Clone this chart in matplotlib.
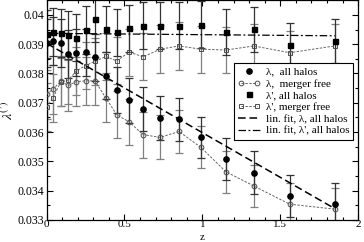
import matplotlib
matplotlib.use("Agg")
import matplotlib.pyplot as plt
from matplotlib.legend_handler import HandlerLine2D
from matplotlib.ticker import MultipleLocator, FormatStrFormatter
import numpy as np

# redshifts of the snapshots
z = [0, 0.04, 0.09, 0.14, 0.19, 0.25, 0.31, 0.38, 0.45, 0.53, 0.62, 0.73,
     0.85, 0.99, 1.15, 1.33, 1.56, 1.85]

lam_all = [0.03903, 0.03910, 0.03905, 0.03868, 0.03871, 0.03872, 0.03856,
           0.03793, 0.03744, 0.03708, 0.03679, 0.03647, 0.03644, 0.03583,
           0.03507, 0.03462, 0.03381, 0.03354]
lam_free = [0.03729, 0.03746, 0.03773, 0.03759, 0.03772, 0.03775, 0.03775,
            0.03717, 0.03659, 0.03635, 0.03591, 0.03582, 0.03602, 0.03548,
            0.03465, 0.03416, 0.03354, 0.03337]
lamp_all = [0.03935, 0.03943, 0.03938, 0.03930, 0.03922, 0.03949, 0.03986,
            0.03952, 0.03940, 0.03955, 0.03963, 0.03963, 0.03963, 0.03966,
            0.03941, 0.03951, 0.03898, 0.03911]
lamp_free = [0.03685, 0.03716, 0.03770, 0.03778, 0.03808, 0.03827, 0.03841,
             0.03858, 0.03843, 0.03873, 0.03857, 0.03883, 0.03894, 0.03883,
             0.03880, 0.03894, 0.03871, 0.03894]

err_lam_all = [0.00082, 0.00082, 0.00082, 0.00082, 0.00081, 0.00081, 0.00080,
               0.00079, 0.00078, 0.00077, 0.00076, 0.00075, 0.00074, 0.00070,
               0.00072, 0.00072, 0.00071, 0.00071]
err_lam_free = [0.00084, 0.00084, 0.00085, 0.00088, 0.00083, 0.00082, 0.00082,
                0.00083, 0.00080, 0.00078, 0.00078, 0.00075, 0.00075, 0.00072,
                0.00072, 0.00072, 0.00071, 0.00071]
err_lamp_all = [0.00082, 0.00082, 0.00082, 0.00082, 0.00081, 0.00081, 0.00080,
                0.00080, 0.00080, 0.00080, 0.00080, 0.00080, 0.00080, 0.00080,
                0.00078, 0.00076, 0.00075, 0.00075]
err_lamp_free = [0.00082, 0.00082, 0.00082, 0.00082, 0.00081, 0.00081, 0.00080,
                 0.00080, 0.00080, 0.00080, 0.00080, 0.00082, 0.00082, 0.00080,
                 0.00079, 0.00076, 0.00075, 0.00075]

# linear fits (intercept, slope)
fit_lam = (0.03903, -0.00305)
fit_lamp = (0.03937, -0.000045)

plt.rcParams["font.family"] = ["Liberation Serif", "DejaVu Serif"]
plt.rcParams["mathtext.fontset"] = "stix"

fig = plt.figure(figsize=(3.64, 2.42), dpi=100)
ax = fig.add_axes([0.128, 0.091, 0.856, 0.908])

zz = np.array(z)
ebkw = dict(fmt="none", elinewidth=0.9, capsize=2.6, capthick=0.9, zorder=2)
ax.errorbar(z, lam_free, yerr=err_lam_free, ecolor="0.5", **ebkw)
ax.errorbar(z, lamp_free, yerr=err_lamp_free, ecolor="0.5", **ebkw)
ax.errorbar(z, lam_all, yerr=err_lam_all, ecolor="0.2", **ebkw)
ax.errorbar(z, lamp_all, yerr=err_lamp_all, ecolor="0.2", **ebkw)

h1, = ax.plot(z, lam_all, "o", color="black", ms=3.8, ls="none", zorder=4,
              label="λ,  all halos")
h2, = ax.plot(z, lam_free, "o", mfc="none", mec="0.3", mew=0.7, ms=3.4,
              color="0.4", ls=(0, (2.5, 1.5)), lw=0.7, zorder=3,
              label="λ,  merger free")
h3, = ax.plot(z, lamp_all, "s", color="black", ms=3.6, ls="none", zorder=4,
              label="λ', all halos")
h4, = ax.plot(z, lamp_free, "s", mfc="none", mec="0.3", mew=0.7, ms=3.4,
              color="0.4", ls=(0, (2.5, 1.5)), lw=0.7, zorder=3,
              label="λ', merger free")
h5, = ax.plot(zz, fit_lam[0] + fit_lam[1] * zz, color="black", lw=1.1,
              ls=(0, (5, 2.5)), zorder=5, label="lin. fit, λ, all halos")
h6, = ax.plot(zz, fit_lamp[0] + fit_lamp[1] * zz, color="black", lw=0.9,
              ls=(0, (6, 2, 1.5, 2)), zorder=5, label="lin. fit, λ', all halos")

ax.set_xlim(0, 2)
ax.set_ylim(0.033, 0.0405)
ax.xaxis.set_major_locator(MultipleLocator(0.5))
ax.xaxis.set_minor_locator(MultipleLocator(0.1))
ax.yaxis.set_major_locator(MultipleLocator(0.001))
ax.yaxis.set_minor_locator(MultipleLocator(0.0005))
ax.xaxis.set_major_formatter(FormatStrFormatter("%g"))
ax.yaxis.set_major_formatter(FormatStrFormatter("%g"))
ax.tick_params(which="both", direction="in", top=True, right=True,
               labelsize=8.5, width=0.8)
ax.tick_params(which="major", length=4, pad=2)
ax.tick_params(axis="x", which="major", pad=0, labelsize=8)
ax.tick_params(which="minor", length=2)
for s in ax.spines.values():
    s.set_linewidth(0.9)

ax.set_xlabel("z", fontsize=8, va="bottom")
ax.xaxis.set_label_coords(0.5, -0.1)
ax.set_ylabel(r"$\lambda^{(\prime)}$", fontsize=10, labelpad=1)

leg = ax.legend(handles=[h1, h2, h3, h4, h5, h6], loc="upper right",
                bbox_to_anchor=(0.984, 0.714), fontsize=8, frameon=True,
                fancybox=False, edgecolor="black", framealpha=1,
                handlelength=2.0, handletextpad=0.5, labelspacing=0.18,
                borderpad=0.35, borderaxespad=0,
                handler_map={h2: HandlerLine2D(numpoints=2),
                             h4: HandlerLine2D(numpoints=2)})
leg.get_frame().set_linewidth(0.8)

fig.savefig("out.png", dpi=100)
